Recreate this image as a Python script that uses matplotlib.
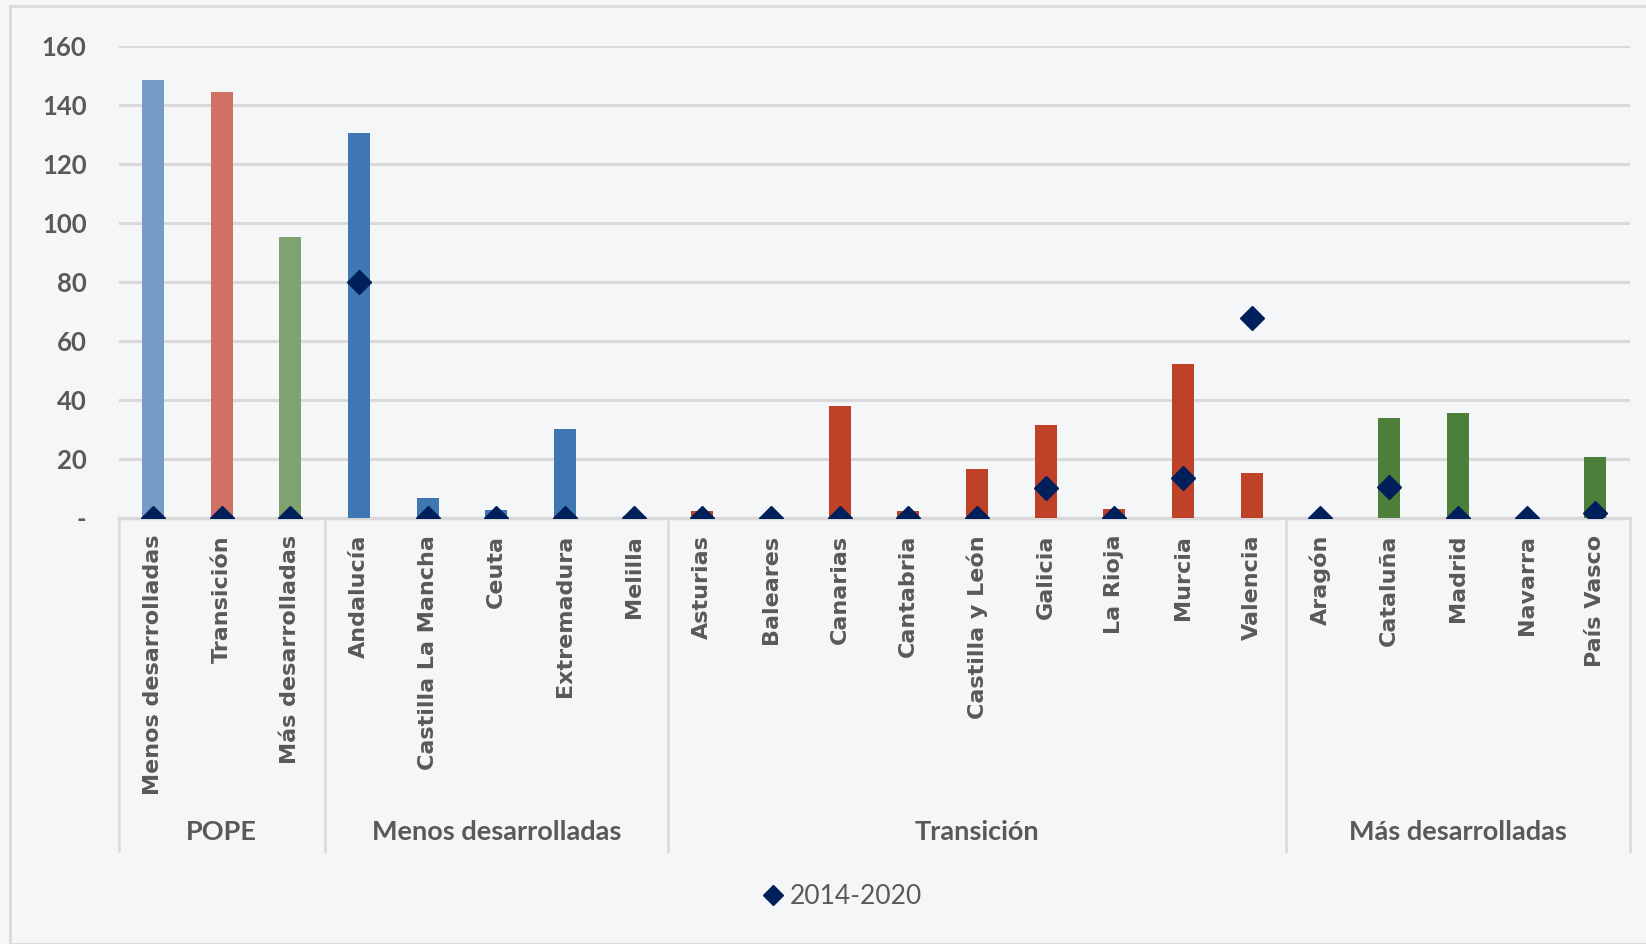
import matplotlib
matplotlib.use("Agg")
import matplotlib.pyplot as plt
from matplotlib.lines import Line2D
from matplotlib.patches import Rectangle
import matplotlib.transforms as mtransforms

categories = ["Menos desarrolladas", "Transición", "Más desarrolladas",
              "Andalucía", "Castilla La Mancha", "Ceuta", "Extremadura", "Melilla",
              "Asturias", "Baleares", "Canarias", "Cantabria", "Castilla y León",
              "Galicia", "La Rioja", "Murcia", "Valencia",
              "Aragón", "Cataluña", "Madrid", "Navarra", "País Vasco"]
groups = ["POPE", "Menos desarrolladas", "Transición", "Más desarrolladas"]
group_sizes = [3, 5, 9, 5]
bar_values = [148.5, 144.5, 95.5,
              130.7, 6.9, 2.8, 30.1, 0.8,
              2.5, 0.0, 38.2, 2.5, 16.7, 31.6, 3.0, 52.4, 15.5,
              0.0, 34.0, 35.8, 0.0, 20.7]
series_2014_2020 = [0, 0, 0,
                    80, 0, 0, 0, 0,
                    0, 0, 0, 0, 0, 10.1, 0, 13.8, 68.0,
                    0, 10.7, 0, 0, 1.9]
y_ticks = [0, 20, 40, 60, 80, 100, 120, 140, 160]
y_tick_labels = ["-", "20", "40", "60", "80", "100", "120", "140", "160"]
legend_label = "2014-2020"

bar_colors = ["#759CC6", "#CF7263", "#7FA36F"] + ["#3F77B2"] * 5 + ["#BE4128"] * 9 + ["#4C7F3A"] * 5
bg = "#F5F6F8"
grid_c = "#D9D9D9"
text_c = "#595959"
diamond_c = "#00205B"

fig = plt.figure(figsize=(16.46, 9.44), dpi=100, facecolor=bg)
ax = fig.add_axes([0.072, 0.451, 0.918, 0.500])
ax.set_facecolor(bg)

x = list(range(len(categories)))
ax.bar(x, bar_values, width=0.32, color=bar_colors, zorder=3)
ax.plot(x, series_2014_2020, linestyle="none", marker="D", markersize=12,
        color=diamond_c, zorder=4, label=legend_label)

ax.set_xlim(-0.5, len(categories) - 0.5)
ax.set_ylim(0, 160)
ax.set_yticks(y_ticks)
ax.set_yticklabels(y_tick_labels, fontfamily="Lato", fontweight="bold", fontsize=18.5, color=text_c)
ax.yaxis.grid(True, color=grid_c, linewidth=2.2, zorder=0)
ax.set_axisbelow(True)
for s in ["top", "right", "left"]:
    ax.spines[s].set_visible(False)
ax.spines["bottom"].set_color(grid_c)
ax.spines["bottom"].set_linewidth(2.5)
ax.tick_params(axis="y", length=0, pad=23)
ax.tick_params(axis="x", length=0, pad=12)
ax.set_xticks(x)
ax.set_xticklabels(categories, rotation=90, fontfamily="DejaVu Sans", fontsize=16,
                   fontweight="bold", color=text_c, va="top", ha="center")

trans = mtransforms.blended_transform_factory(ax.transData, ax.transAxes)
bounds = [-0.5]
for gs in group_sizes:
    bounds.append(bounds[-1] + gs)
for b in bounds:
    ax.add_line(Line2D([b, b], [0, -0.705], transform=trans, color=grid_c,
                       linewidth=1.8, clip_on=False))
for i, g in enumerate(groups):
    cx = (bounds[i] + bounds[i + 1]) / 2
    ax.text(cx, -0.665, g, transform=trans, ha="center", va="center",
            fontfamily="Lato", fontweight="bold", fontsize=19.5, color=text_c)

handle = Line2D([], [], linestyle="none", marker="D", markersize=10, color=diamond_c)
fig.legend([handle], [legend_label], loc="center", bbox_to_anchor=(0.51, 0.05),
           frameon=False, handletextpad=0.05, handlelength=1.2,
           prop={"family": "Lato", "size": 19}, labelcolor=text_c)

fig.add_artist(Rectangle((0.006, 0.0), 0.997, 0.994, transform=fig.transFigure,
                         fill=False, edgecolor=grid_c, linewidth=2))

fig.savefig("out.png", dpi=100, facecolor=bg)
